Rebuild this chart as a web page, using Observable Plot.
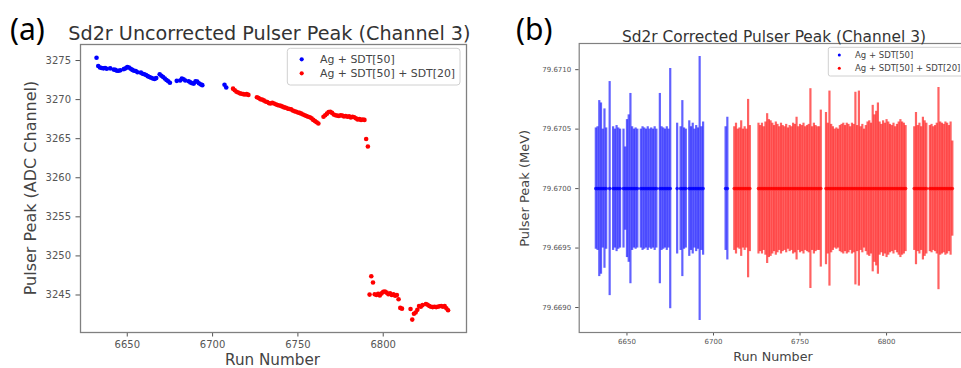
<!DOCTYPE html>
<html><head><meta charset="utf-8">
<script src="https://cdn.jsdelivr.net/npm/d3@7"></script>
<script src="https://cdn.jsdelivr.net/npm/@observablehq/plot@0.6"></script>
<style>
html,body{margin:0;padding:0;background:#fff;overflow:hidden}
#wrap{position:relative;width:961px;height:368px;overflow:hidden;background:#fff}
#wrap > svg{position:absolute;top:0}
</style></head><body><div id="wrap"></div>
<script>
// ---------- data ----------
const seriesNames = ["Ag + SDT[50]", "Ag + SDT[50] + SDT[20]"];
const seriesColors = ["#0000ff", "#ff0000"];

const blueRuns = [6632,6633,6634,6635,6636,6637,6638,6640,6642,6643,6644,6645,6646,6648,6649,6650,6651,6652,6653,6654,6655,6656,6658,6659,6660,6661,6662,6663,6664,6665,6666,6667,6669,6670,6671,6672,6673,6674,6675,6679,6681,6682,6683,6684,6686,6687,6688,6689,6690,6691,6692,6693,6694,6707,6708];
const blueRawPeak = [3275.35,3274.30,3274.10,3274.05,3274.00,3274.05,3273.95,3274.00,3273.85,3273.80,3273.70,3273.70,3273.75,3273.90,3274.00,3274.15,3274.10,3273.95,3273.80,3273.70,3273.65,3273.50,3273.45,3273.30,3273.25,3273.15,3273.00,3272.90,3272.80,3272.70,3272.65,3272.75,3273.25,3273.05,3272.90,3272.70,3272.50,3272.35,3272.15,3272.40,3272.45,3272.70,3272.60,3272.45,3272.35,3272.20,3272.10,3272.05,3272.35,3272.30,3272.10,3271.95,3271.85,3271.90,3271.55];
const blueErr = [0.00051,0.00052,0.00074,0.00072,0.00050,0.00067,0.00051,0.00090,0.00052,0.00050,0.00053,0.00051,0.00050,0.00050,0.00035,0.00058,0.00062,0.00080,0.00052,0.00050,0.00051,0.00050,0.00050,0.00052,0.00051,0.00050,0.00052,0.00050,0.00051,0.00050,0.00052,0.00050,0.00080,0.00052,0.00051,0.00050,0.00052,0.00050,0.00101,0.00055,0.00052,0.00074,0.00051,0.00050,0.00057,0.00052,0.00055,0.00050,0.00053,0.00051,0.00111,0.00052,0.00056,0.00052,0.00060];

const redRuns = [6712,6713,6714,6715,6716,6717,6718,6719,6720,6721,
  6726,6727,6728,6729,6730,6731,6732,6733,6734,6735,6736,6737,6738,6739,6740,6741,6742,6743,6744,6745,6746,6747,6748,6749,6750,6751,6752,6753,6754,6755,6756,6757,6758,6759,6760,6761,6762,
  6765,6766,6767,6768,6769,6770,6771,6772,6773,6774,6775,6776,6777,6778,6779,6780,6781,6782,6783,6784,6785,6786,6787,6788,6789,6790,6791,6792,6793,6794,6795,6796,6797,6798,6799,6800,6801,6802,6803,6804,6805,6806,6807,6808,6809,6810,6811,
  6816,6817,6818,6819,6820,6821,6822,6823,6825,6826,6827,6828,6829,6830,6831,6832,6833,6834,6835,6836,6837,6838];
const redRawPeak = [3271.40,3271.20,3271.00,3270.90,3270.80,3270.75,3270.70,3270.65,3270.70,3270.60,
  3270.30,3270.20,3270.05,3270.00,3269.90,3269.75,3269.70,3269.55,3269.50,3269.60,3269.50,3269.40,3269.30,3269.25,3269.20,3269.10,3269.00,3268.95,3268.85,3268.80,3268.75,3268.60,3268.50,3268.45,3268.35,3268.30,3268.20,3268.10,3268.00,3267.90,3267.80,3267.75,3267.60,3267.40,3267.25,3267.10,3266.95,
  3267.80,3268.00,3268.20,3268.40,3268.45,3268.30,3268.10,3268.00,3267.95,3267.90,3268.00,3267.95,3267.85,3267.90,3267.80,3267.85,3267.70,3267.80,3267.75,3267.60,3267.45,3267.50,3267.40,3267.45,3267.40,3264.95,3264.00,3245.05,3247.40,3246.60,3245.10,3245.00,3245.15,3244.95,3245.20,3245.40,3245.45,3245.30,3245.10,3245.20,3245.00,3245.10,3244.90,3245.00,3244.45,3243.35,3243.25,
  3243.20,3241.85,3242.60,3242.75,3243.10,3243.60,3243.50,3243.70,3243.85,3243.75,3243.60,3243.50,3243.45,3243.50,3243.45,3243.50,3243.55,3243.60,3243.50,3243.60,3243.30,3243.05];
const redErr = [0.00052,0.00055,0.00050,0.00051,0.00057,0.00050,0.00052,0.00050,0.00075,0.00053,
  0.00055,0.00053,0.00055,0.00052,0.00056,0.00063,0.00058,0.00057,0.00055,0.00053,0.00056,0.00054,0.00052,0.00055,0.00053,0.00052,0.00054,0.00051,0.00053,0.00052,0.00055,0.00054,0.00060,0.00052,0.00054,0.00053,0.00055,0.00052,0.00053,0.00054,0.00084,0.00052,0.00055,0.00053,0.00052,0.00052,0.00066,
  0.00064,0.00055,0.00082,0.00054,0.00052,0.00050,0.00051,0.00050,0.00053,0.00054,0.00055,0.00053,0.00055,0.00054,0.00052,0.00055,0.00054,0.00081,0.00053,0.00082,0.00052,0.00054,0.00050,0.00053,0.00056,0.00057,0.00055,0.00070,0.00062,0.00065,0.00072,0.00056,0.00054,0.00057,0.00055,0.00058,0.00056,0.00054,0.00053,0.00055,0.00052,0.00054,0.00056,0.00058,0.00056,0.00055,0.00053,
  0.00052,0.00064,0.00053,0.00055,0.00052,0.00060,0.00057,0.00055,0.00053,0.00054,0.00052,0.00053,0.00055,0.00085,0.00056,0.00055,0.00054,0.00056,0.00055,0.00053,0.00056,0.00040];

const correctedPeak = 79.6700;

const xTicks = [6650, 6700, 6750, 6800];
const yTicksA = [3245, 3250, 3255, 3260, 3265, 3270, 3275];
const yTicksB = [79.6690, 79.6695, 79.6700, 79.6705, 79.6710];

const titleA = "Sd2r Uncorrected Pulser Peak (Channel 3)";
const titleB = "Sd2r Corrected Pulser Peak (Channel 3)";
const yLabelA = "Pulser Peak (ADC Channel)";
const yLabelB = "Pulser Peak (MeV)";
const xLabel = "Run Number";
const panelLabels = ["(a)", "(b)"];

// ---------- build tables ----------
const rows = [];
blueRuns.forEach((r, i) => rows.push({run: r, raw: blueRawPeak[i], err: blueErr[i], peak: correctedPeak, group: seriesNames[0]}));
redRuns.forEach((r, i) => rows.push({run: r, raw: redRawPeak[i], err: redErr[i], peak: correctedPeak, group: seriesNames[1]}));

const wrap = document.getElementById("wrap");
const colorScale = {domain: seriesNames, range: seriesColors};

const plotA = Plot.plot({
  width: 480, height: 368,
  marginLeft: 80, marginRight: 14, marginTop: 44, marginBottom: 36,
  style: {fontFamily: "DejaVu Sans", fontSize: "10px", color: "#555", background: "transparent", overflow: "visible"},
  x: {domain: [6622.6, 6848.8]},
  y: {domain: [3240.2, 3277.05]},
  color: colorScale,
  marks: [
    Plot.axisX({ticks: xTicks, tickFormat: d => String(d), tickSize: 4.5, tickPadding: 4, label: null}),
    Plot.axisY({ticks: yTicksA, tickFormat: d => String(d), tickSize: 4.5, tickPadding: 5, label: null}),
    Plot.dot(rows, {x: "run", y: "raw", fill: "group", r: 2.3}),
    Plot.frame({stroke: "#808080", strokeWidth: 1.3})
  ]
});
plotA.style.left = "0px";
wrap.appendChild(plotA);

const plotB = Plot.plot({
  width: 492, height: 368,
  marginLeft: 98.7, marginRight: 2, marginTop: 43, marginBottom: 36,
  style: {fontFamily: "DejaVu Sans", fontSize: "7px", color: "#555", background: "transparent", overflow: "visible"},
  x: {domain: [6622.4, 6848.5]},
  y: {domain: [79.66879, 79.67122]},
  color: colorScale,
  marks: [
    Plot.axisX({ticks: xTicks, tickFormat: d => String(d), tickSize: 3.5, tickPadding: 3.5, label: null}),
    Plot.axisY({ticks: yTicksB, tickFormat: d => d.toFixed(4), tickSize: 3.5, tickPadding: 4.5, label: null}),
    Plot.ruleX(rows, {x: "run", y1: d => d.peak - d.err, y2: d => d.peak + d.err, stroke: "group", strokeOpacity: 0.62, strokeWidth: 2.2}),
    Plot.dot(rows, {x: "run", y: "peak", fill: "group", r: 1.8, fillOpacity: 0.8}),
    Plot.frame({stroke: "#808080", strokeWidth: 1.2})
  ]
});
plotB.style.left = "480px";
wrap.appendChild(plotB);

// ---------- overlay text: titles, axis labels, legends ----------
const ns = "http://www.w3.org/2000/svg";
const ov = document.createElementNS(ns, "svg");
ov.setAttribute("width", 961); ov.setAttribute("height", 368);
ov.style.left = "0px"; ov.style.pointerEvents = "none";
wrap.appendChild(ov);
function txt(s, x, y, opts) {
  const t = document.createElementNS(ns, "text");
  t.textContent = s;
  t.setAttribute("x", x); t.setAttribute("y", y);
  t.setAttribute("font-family", opts.family || "DejaVu Sans");
  t.setAttribute("font-size", opts.size);
  t.setAttribute("fill", opts.fill || "#333");
  if (opts.anchor) t.setAttribute("text-anchor", opts.anchor);
  if (opts.rotate) t.setAttribute("transform", `rotate(-90 ${x} ${y})`);
  ov.appendChild(t);
}
function el(tag, attrs) {
  const e = document.createElementNS(ns, tag);
  for (const k in attrs) e.setAttribute(k, attrs[k]);
  ov.appendChild(e);
}
txt(panelLabels[0], 10, 40, {family: "Noto Sans", size: 30, fill: "#000"});
txt(panelLabels[1], 516, 40, {family: "Noto Sans", size: 30, fill: "#000"});
txt(titleA, 68.3, 40, {size: 19.2});
txt(titleB, 774, 41.5, {size: 15.4, anchor: "middle"});
txt(yLabelA, 36, 188, {size: 16, anchor: "middle", rotate: true, fill: "#444"});
txt(xLabel, 272.5, 364.5, {size: 15.2, anchor: "middle", fill: "#444"});
txt(yLabelB, 529.5, 188.3, {size: 13, anchor: "middle", rotate: true, fill: "#444"});
txt(xLabel, 773, 361, {size: 12.7, anchor: "middle", fill: "#444"});

// legend (a)
el("rect", {x: 287.3, y: 48.3, width: 172.7, height: 36.7, rx: 3, fill: "#fff", "fill-opacity": 0.8, stroke: "#d0d0d0"});
el("circle", {cx: 301.7, cy: 59.3, r: 2.1, fill: seriesColors[0]});
el("circle", {cx: 301.7, cy: 73.3, r: 2.1, fill: seriesColors[1]});
txt(seriesNames[0], 320, 63.2, {size: 10.9, fill: "#444"});
txt(seriesNames[1], 320, 77.2, {size: 10.9, fill: "#444"});
// legend (b)
el("rect", {x: 828.3, y: 47.3, width: 140, height: 28.7, rx: 2, fill: "#fff", "fill-opacity": 0.8, stroke: "#d0d0d0"});
el("circle", {cx: 839.3, cy: 55, r: 1.5, fill: seriesColors[0]});
el("circle", {cx: 839.3, cy: 68.3, r: 1.5, fill: seriesColors[1]});
txt(seriesNames[0], 855, 58.1, {size: 8.5, fill: "#444"});
txt(seriesNames[1], 855, 71.4, {size: 8.5, fill: "#444"});
</script>
</body></html>
